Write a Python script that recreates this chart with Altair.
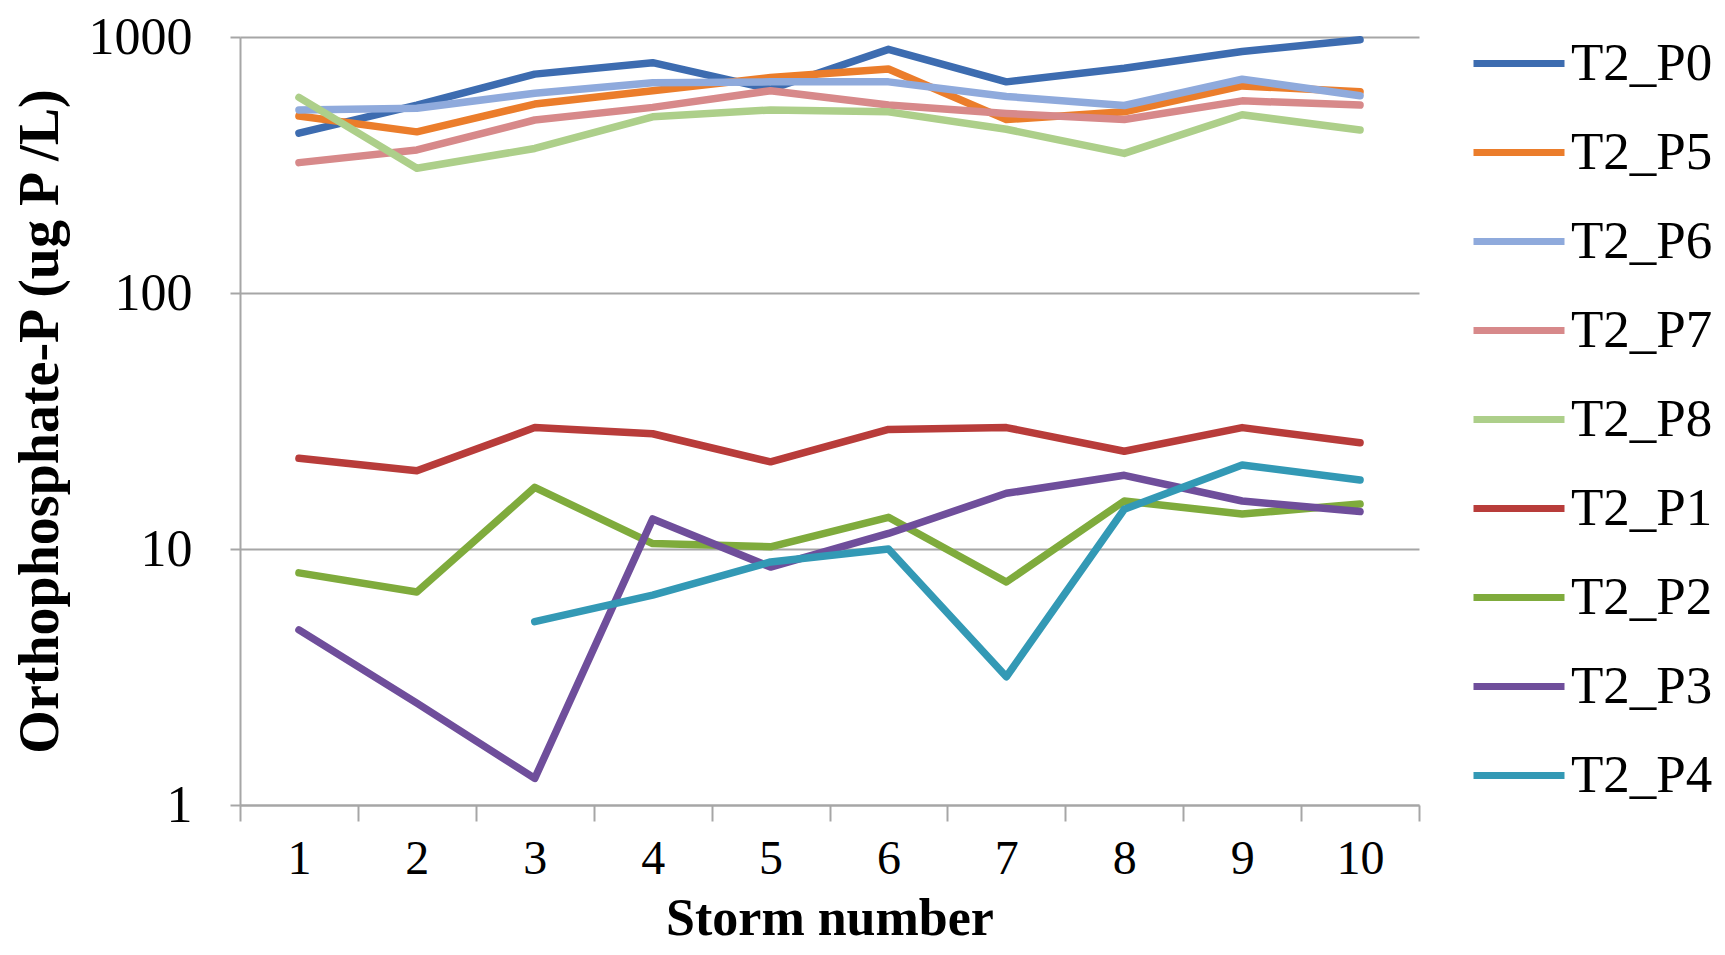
import altair as alt
import pandas as pd

storms = ["1", "2", "3", "4", "5", "6", "7", "8", "9", "10"]
series = ["T2_P0", "T2_P5", "T2_P6", "T2_P7", "T2_P8", "T2_P1", "T2_P2", "T2_P3", "T2_P4"]
colors = ["#3D6CB0", "#EB7D2B", "#8FAADC", "#D7898A", "#ADCF8A", "#B83C3A", "#7FAB3C", "#6F4E9B", "#3399B5"]

T2_P0 = [421, 542, 716, 794, 625, 895, 668, 755, 878, 975]
T2_P5 = [491, 426, 547, 617, 695, 750, 476, 510, 644, 611]
T2_P6 = [519, 527, 603, 663, 668, 668, 586, 540, 684, 590]
T2_P7 = [323, 362, 474, 531, 617, 542, 503, 476, 563, 542]
T2_P8 = [581, 307, 367, 488, 519, 510, 436, 351, 497, 433]
T2_P1 = [22.6, 20.2, 29.8, 28.2, 21.9, 29.3, 29.8, 24.1, 29.8, 26.0]
T2_P2 = [8.07, 6.79, 17.4, 10.5, 10.2, 13.3, 7.43, 15.4, 13.7, 15.0]
T2_P3 = [4.83, 2.5, 1.27, 13.1, 8.5, 11.5, 16.5, 19.4, 15.4, 14.0]
T2_P4 = [None, None, 5.2, 6.6, 8.9, 10.0, 3.17, 14.3, 21.3, 18.6]

values = {"T2_P0": T2_P0, "T2_P5": T2_P5, "T2_P6": T2_P6, "T2_P7": T2_P7, "T2_P8": T2_P8,
          "T2_P1": T2_P1, "T2_P2": T2_P2, "T2_P3": T2_P3, "T2_P4": T2_P4}

rows = []
for s in series:
    for st, v in zip(storms, values[s]):
        if v is not None:
            rows.append({"storm": st, "series": s, "value": v})
df = pd.DataFrame(rows)

FONT = "Liberation Serif"
GRAY = "#A6A6A6"

chart = alt.Chart(df).mark_line(strokeWidth=7.5, strokeJoin="round", strokeCap="round").encode(
    x=alt.X("storm:O", sort=storms,
            scale=alt.Scale(type="band", paddingInner=0, paddingOuter=0),
            axis=alt.Axis(title="Storm number", tickBand="extent", labelAngle=0,
                          domainColor=GRAY, domainWidth=2, tickColor=GRAY, tickWidth=2, tickSize=16,
                          labelFont=FONT, labelFontSize=48, labelColor="black", labelPadding=14,
                          titleFont=FONT, titleFontSize=52, titleFontWeight="bold", titleColor="black",
                          titleX=589.5, titleY=129, titleBaseline="alphabetic", titleAlign="center",
                          grid=False)),
    y=alt.Y("value:Q",
            scale=alt.Scale(type="log", domain=[1, 1000], nice=False),
            axis=alt.Axis(title="Orthophosphate-P (ug P /L)", values=[1, 10, 100, 1000], format="d",
                          grid=True, gridColor=GRAY, gridWidth=2,
                          domainColor=GRAY, domainWidth=2, tickColor=GRAY, tickWidth=2, tickSize=10,
                          labelFont=FONT, labelFontSize=52, labelColor="black", labelPadding=38,
                          titleFont=FONT, titleFontSize=56, titleFontWeight="bold", titleColor="black",
                          titleAngle=270, titleX=-183, titleY=384, titleBaseline="alphabetic",
                          titleAlign="center")),
    color=alt.Color("series:N", sort=series,
                    scale=alt.Scale(domain=series, range=colors),
                    legend=alt.Legend(title=None, orient="none", legendX=1230, legendY=-22.5,
                                      symbolType="stroke", symbolSize=8281, symbolStrokeWidth=7,
                                      labelFont=FONT, labelFontSize=53, labelColor="black",
                                      labelOffset=3, rowPadding=13, padding=0, labelLimit=300)),
).properties(
    width=1179, height=768,
    autosize=alt.AutoSizeParams(type="none"),
    padding={"left": 232, "top": 29, "right": 298, "bottom": 141},
).configure_view(stroke=None)

chart.save("out.html", embed_options={"renderer": "svg", "actions": False})
